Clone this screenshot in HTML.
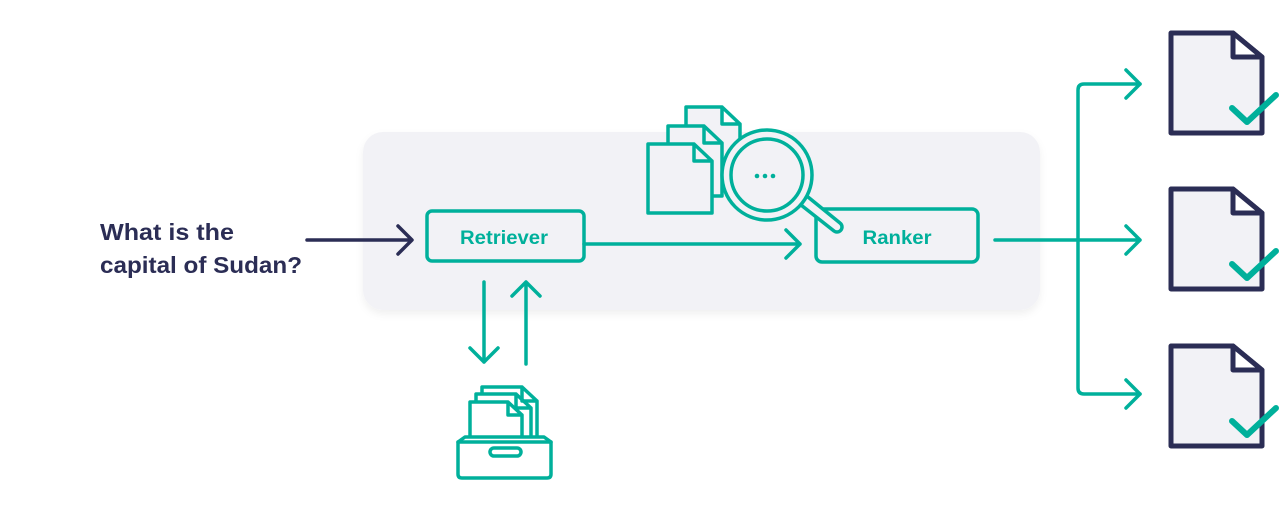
<!DOCTYPE html>
<html><head><meta charset="utf-8"><style>
html,body{margin:0;padding:0;background:#fff;width:1280px;height:508px;overflow:hidden}
</style></head><body>
<svg width="1280" height="508" viewBox="0 0 1280 508" xmlns="http://www.w3.org/2000/svg">
<defs>
<filter id="sh" x="-10%" y="-20%" width="120%" height="150%"><feDropShadow dx="0" dy="4" stdDeviation="4" flood-color="#000" flood-opacity="0.06"/></filter>
</defs>
<rect x="363" y="132" width="677" height="178" rx="20" fill="#f2f2f6" filter="url(#sh)"/>
<g font-family="Liberation Sans, sans-serif" font-weight="bold" fill="#2b2d55" font-size="23">
<text x="100" y="240" textLength="134" lengthAdjust="spacingAndGlyphs">What is the</text>
<text x="100" y="273" textLength="202" lengthAdjust="spacingAndGlyphs">capital of Sudan?</text>
</g>
<g fill="none" stroke="#2b2d55" stroke-width="3.5" stroke-linecap="round" stroke-linejoin="round">
<path d="M307 240 H411 M398 226 L412 240 L398 254"/>
</g>
<g fill="none" stroke="#00b09b" stroke-width="3.5" stroke-linecap="round" stroke-linejoin="round">
<rect x="427" y="211" width="157" height="50" rx="5"/>
<path d="M584 244 H800 M786 230 L800 244 L786 258"/>
<rect x="816" y="209" width="162" height="53" rx="6"/>
<path d="M995 240 H1140 M1126 226 L1140 240 L1126 254"/>
<path d="M1140 84 H1084 Q1078 84 1078 90 V388 Q1078 394 1084 394 H1140"/>
<path d="M1126 70 L1140 84 L1126 98 M1126 380 L1140 394 L1126 408"/>
<path d="M484 282 V362 M470 348 L484 362 L498 348"/>
<path d="M526 364 V282 M512 296 L526 282 L540 296"/>
<path d="M686 107 H722 L740 124 V177 H686 Z M722 107 V124 H740" fill="#f2f2f6"/>
<path d="M668 126 H704 L722 143 V196 H668 Z M704 126 V143 H722" fill="#f2f2f6"/>
<path d="M648 144 H694 L712 161 V213 H648 Z M694 144 V161 H712" fill="#f2f2f6"/>
<path d="M801 205 L834 231 A4 4 0 0 0 840 223 L808 197" fill="#f2f2f6"/>
<circle cx="767" cy="175" r="45" fill="#f2f2f6"/>
<circle cx="767" cy="175" r="36"/>
<path d="M482 387 H522 L537 401 V440 H482 Z M522 387 V401 H537" fill="#fff"/>
<path d="M476 394 H516 L531 408 V440 H476 Z M516 394 V408 H531" fill="#fff"/>
<path d="M470 402 H508 L522 415 V440 H470 Z M508 402 V415 H522" fill="#fff"/>
<path d="M458 442 L465 437 H544 L551 442 V474 Q551 478 547 478 H462 Q458 478 458 474 Z" fill="#fff"/>
<path d="M458 442 H551"/>
<rect x="490" y="448" width="31" height="8" rx="4"/>
</g>
<g fill="#00b09b"><circle cx="757" cy="176" r="2.3"/><circle cx="765" cy="176" r="2.3"/><circle cx="773" cy="176" r="2.3"/></g>
<g font-family="Liberation Sans, sans-serif" font-weight="bold" fill="#00b09b" font-size="19" text-anchor="middle">
<text x="504" y="244" textLength="88" lengthAdjust="spacingAndGlyphs">Retriever</text>
<text x="897" y="244" textLength="69" lengthAdjust="spacingAndGlyphs">Ranker</text>
</g>
<g stroke-linejoin="round" stroke-linecap="round">
<g>
<path d="M1171 33 H1233 L1262 57 V133 H1171 Z" fill="#f2f2f6" stroke="#2b2d55" stroke-width="5"/>
<path d="M1233 33 V57 H1262 Z" fill="#fff" stroke="#2b2d55" stroke-width="5"/>
<path d="M1232 108 L1247 122 L1276 95" fill="none" stroke="#00b09b" stroke-width="6"/>
</g>
<g transform="translate(0,156)">
<path d="M1171 33 H1233 L1262 57 V133 H1171 Z" fill="#f2f2f6" stroke="#2b2d55" stroke-width="5"/>
<path d="M1233 33 V57 H1262 Z" fill="#fff" stroke="#2b2d55" stroke-width="5"/>
<path d="M1232 108 L1247 122 L1276 95" fill="none" stroke="#00b09b" stroke-width="6"/>
</g>
<g transform="translate(0,313)">
<path d="M1171 33 H1233 L1262 57 V133 H1171 Z" fill="#f2f2f6" stroke="#2b2d55" stroke-width="5"/>
<path d="M1233 33 V57 H1262 Z" fill="#fff" stroke="#2b2d55" stroke-width="5"/>
<path d="M1232 108 L1247 122 L1276 95" fill="none" stroke="#00b09b" stroke-width="6"/>
</g>
</g>
</svg>
</body></html>
